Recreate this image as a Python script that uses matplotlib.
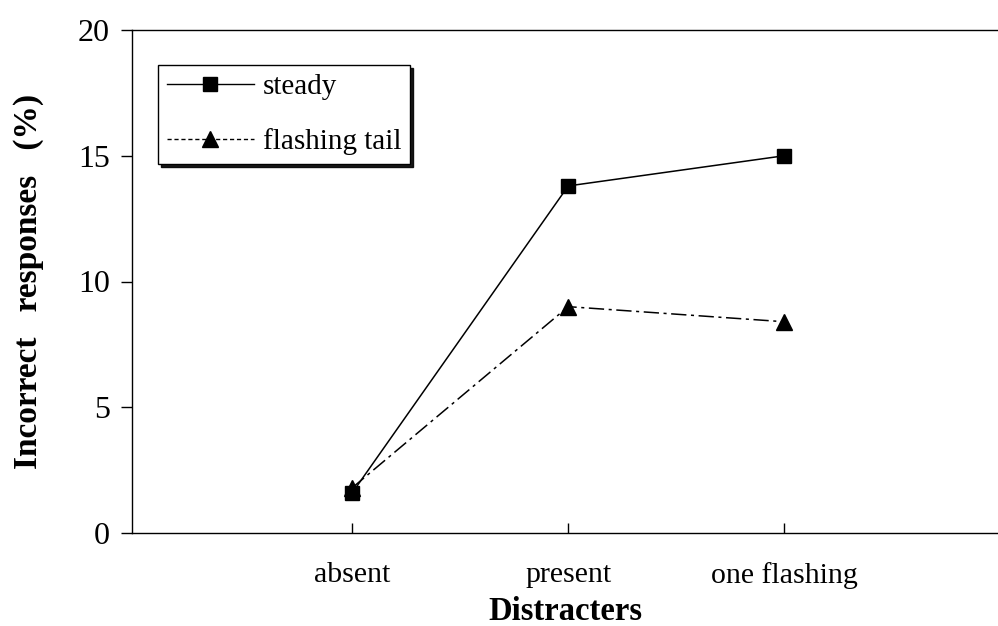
import matplotlib.pyplot as plt
from matplotlib.lines import Line2D

# Data
categories = ['absent', 'present', 'one flashing']
steady = [1.6, 13.8, 15.0]
flashing_tail = [1.8, 9.0, 8.4]
y_ticks = [0, 5, 10, 15, 20]

plt.rcParams['font.family'] = ['Liberation Serif', 'DejaVu Serif']

fig = plt.figure(figsize=(9.98, 6.26), dpi=100)
ax = fig.add_axes([132 / 998, (626 - 533) / 626, (998 - 132) / 998, (533 - 30) / 626])

x = range(len(categories))
ax.plot(x, steady, color='black', lw=1.1, marker='s', ms=10, mec='black', mfc='black')
ax.plot(x, flashing_tail, color='black', lw=1.1, ls=(0, (10, 3, 2, 3)), marker='^', ms=12,
        mec='black', mfc='black')

ax.set_xlim(-1.02, 2.99)
ax.set_ylim(0, 20)
ax.set_xticks(list(x))
ax.set_xticklabels(categories, fontsize=21.5)
ax.set_yticks(y_ticks)
ax.set_yticklabels([str(t) for t in y_ticks], fontsize=23)
ax.tick_params(axis='x', direction='in', length=7, width=1, pad=21)
ax.tick_params(axis='y', direction='out', length=8, width=1, pad=8)
ax.spines['right'].set_visible(False)
for s in ['left', 'bottom', 'top']:
    ax.spines[s].set_linewidth(1.0)

ax.set_xlabel('Distracters', fontsize=23.5, fontweight='bold', labelpad=5)
ax.set_ylabel('Incorrect   responses   (%)', fontsize=24, fontweight='bold', labelpad=24)

handles = [
    Line2D([], [], color='black', lw=1, marker='s', ms=10, label='steady'),
    Line2D([], [], color='black', lw=1, ls=(0, (3, 2)), marker='^', ms=12, label='flashing tail'),
]
leg = ax.legend(handles=handles, loc='upper left', bbox_to_anchor=(0.03, 0.930),
                borderaxespad=0, fontsize=21, frameon=True, fancybox=False,
                shadow={'color': 'black', 'alpha': 0.9},
                edgecolor='black', handlelength=3.0, handletextpad=0.3, borderpad=0.3,
                labelspacing=0.95)
leg.get_frame().set_linewidth(1.0)

fig.savefig('out.png', dpi=100)
